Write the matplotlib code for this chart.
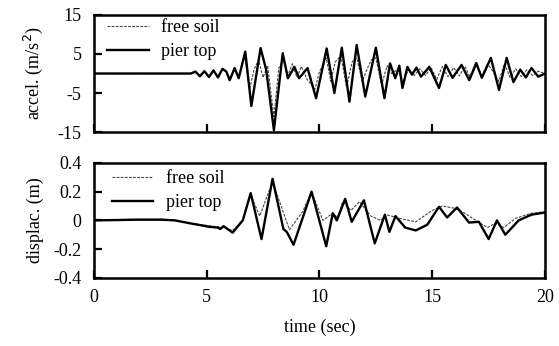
import numpy as np
import matplotlib
matplotlib.use("Agg")
import matplotlib.pyplot as plt

plt.rcParams['font.family'] = ['Liberation Serif', 'DejaVu Serif']

# acceleration, pier top (solid)
acc_pier_t = [0, 4.3, 4.5, 4.7, 4.9, 5.1, 5.3, 5.5, 5.7, 5.87, 6.02, 6.24, 6.42, 6.71,
              6.98, 7.39, 7.64, 7.98, 8.37, 8.6, 8.89, 9.1, 9.47, 9.85, 10.32, 10.66,
              10.99, 11.33, 11.65, 12.03, 12.5, 12.88, 13.13, 13.36, 13.54, 13.68, 13.9,
              14.1, 14.3, 14.5, 14.87, 15.3, 15.6, 15.9, 16.3, 16.64, 16.95, 17.2, 17.6,
              17.96, 18.3, 18.6, 18.9, 19.15, 19.4, 19.7, 20.0]
acc_pier = [0, 0, 0.5, -0.7, 0.6, -0.9, 0.8, -1.0, 1.2, 0.5, -1.7, 1.4, -1.2, 5.6,
            -8.3, 6.5, 0.9, -14.5, 5.2, -1.2, 1.7, -1.2, 1.4, -6.3, 6.4, -5.0,
            6.6, -7.2, 7.3, -5.9, 6.6, -6.3, 2.6, -1.2, 2.0, -3.7, 1.7,
            -0.3, 1.5, -0.8, 1.7, -3.7, 2.2, -1.1, 2.2, -1.7, 2.7, -1.1, 4.0,
            -4.2, 4.0, -2.2, 1.0, -1.0, 1.4, -0.8, 0.0]

# acceleration, free soil (dashed)
acc_soil_t = [0, 4.3, 4.5, 4.7, 4.9, 5.1, 5.3, 5.5, 5.7, 5.87, 6.02, 6.24, 6.42, 6.68,
              6.9, 7.1, 7.3, 7.5, 7.7, 7.98, 8.2, 8.4, 8.6, 8.8, 9.0, 9.2, 9.45, 9.8,
              10.0, 10.3, 10.5, 10.7, 10.95, 11.2, 11.45, 11.65, 11.9, 12.1, 12.3, 12.5,
              12.75, 13.0, 13.2, 13.45, 13.7, 13.95, 14.2, 14.45, 14.7, 14.95, 15.2,
              15.45, 15.7, 15.95, 16.2, 16.45, 16.7, 16.95, 17.2, 17.45, 17.7, 17.95,
              18.2, 18.45, 18.7, 18.95, 19.2, 19.45, 19.7, 20.0]
acc_soil = [0, 0, 0.5, -0.6, 0.6, -0.8, 0.8, -0.9, 1.1, 0.4, -1.5, 1.2, -1.0, 4.5,
            -4.2, 1.0, 3.5, -1.0, 2.0, -11.0, 1.5, 3.5, -0.5, 2.5, -1.0, 1.8, -1.5, -4.0,
            0.5, 4.0, -2.0, 3.0, 4.5, -3.5, 3.0, 4.0, -2.0, 1.0, 3.5, 4.0,
            -3.0, 2.0, 0.0, 1.0, -2.0, 1.0, -0.5, 1.2, -0.5, 1.5, -1.5,
            1.8, -0.8, 1.5, -0.6, 1.8, -1.2, 2.0, -0.5, 2.5, 0.5, -2.0,
            2.5, -1.0, 1.2, -0.8, 1.0, -0.5, 0.6, 0.0]

# displacement, pier top (solid)
dis_pier_t = [0, 2.0, 3.0, 3.6, 4.25, 5.13, 5.5, 5.6, 5.75, 6.15, 6.6, 6.95, 7.43, 7.92,
              8.4, 8.55, 8.85, 9.65, 10.3, 10.59, 10.77, 11.14, 11.43, 11.97, 12.45,
              12.9, 13.1, 13.37, 13.8, 14.27, 14.78, 15.3, 15.66, 16.1, 16.63, 17.07,
              17.5, 17.87, 18.24, 18.83, 19.4, 20.0]
dis_pier = [0, 0.005, 0.005, 0.0, -0.02, -0.045, -0.05, -0.06, -0.04, -0.085, 0.0, 0.19,
            -0.13, 0.29, -0.06, -0.08, -0.17, 0.2, -0.18, 0.05, 0.0, 0.15, -0.01, 0.14,
            -0.16, 0.04, -0.08, 0.03, -0.05, -0.07, -0.03, 0.095, 0.02, 0.09, -0.015,
            -0.01, -0.13, 0.0, -0.1, 0.0, 0.04, 0.055]

# displacement, free soil (dashed)
dis_soil_t = [0, 1.5, 3.0, 3.6, 4.25, 5.0, 5.72, 6.15, 6.6, 6.95, 7.35, 7.92, 8.67, 9.25,
              9.65, 10.15, 10.59, 10.8, 11.03, 11.4, 11.77, 12.28, 12.72, 12.97, 13.53,
              14.27, 15.0, 15.46, 15.97, 16.34, 16.93, 17.45, 17.8, 18.17, 18.7, 19.4,
              20.0]
dis_soil = [0, 0.008, 0.008, 0.0, -0.02, -0.035, -0.05, -0.07, 0.0, 0.18, 0.03, 0.27,
            -0.065, 0.06, 0.2, 0.0, 0.05, 0.02, 0.13, 0.07, 0.13, 0.03, 0.0, 0.04, 0.015,
            -0.01, 0.07, 0.1, 0.085, 0.06, 0.0, -0.05, -0.02, -0.05, 0.015, 0.05, 0.06]

fig = plt.figure(figsize=(5.59, 3.46), dpi=100)
ax1 = fig.add_axes([0.168, 0.618, 0.807, 0.339])
ax2 = fig.add_axes([0.168, 0.197, 0.807, 0.332])

fs = 13
dash = (0, (2.5, 1.2))
panels = [(ax1, acc_soil_t, acc_soil, acc_pier_t, acc_pier, (0.013, 1.025)),
          (ax2, dis_soil_t, dis_soil, dis_pier_t, dis_pier, (0.024, 1.0))]
for ax, ts, ys, tp, yp, anchor in panels:
    ax.plot(ts, ys, color='#444444', lw=0.8, linestyle=dash, label='free soil')
    ax.plot(tp, yp, color='black', lw=1.7, solid_joinstyle='round', label='pier top')
    ax.set_xlim(0, 20)
    ax.set_xticks([0, 5, 10, 15, 20])
    ax.tick_params(direction='in', length=6, width=1.6, labelsize=fs)
    ax.tick_params(axis='y', pad=9)
    ax.tick_params(axis='x', pad=8)
    for s in ax.spines.values():
        s.set_linewidth(1.8)
    ax.legend(loc='upper left', frameon=False, fontsize=fs, handlelength=2.3,
              handletextpad=0.7, labelspacing=0.4, borderaxespad=0.0,
              bbox_to_anchor=anchor)

ax1.set_ylim(-15, 15)
ax1.set_yticks([-15, -5, 5, 15])
ax1.set_yticklabels(['-15', '-5', '5', '15'])
ax1.tick_params(labelbottom=False)
ax1.set_ylabel('accel. (m/s$^2$)', fontsize=fs, labelpad=9)

ax2.set_ylim(-0.4, 0.4)
ax2.set_yticks([-0.4, -0.2, 0, 0.2, 0.4])
ax2.set_yticklabels(['-0.4', '-0.2', '0', '0.2', '0.4'])
ax2.set_ylabel('displac. (m)', fontsize=fs, labelpad=7)
ax2.set_xlabel('time (sec)', fontsize=fs, labelpad=9)

fig.savefig('out.png', dpi=100)
